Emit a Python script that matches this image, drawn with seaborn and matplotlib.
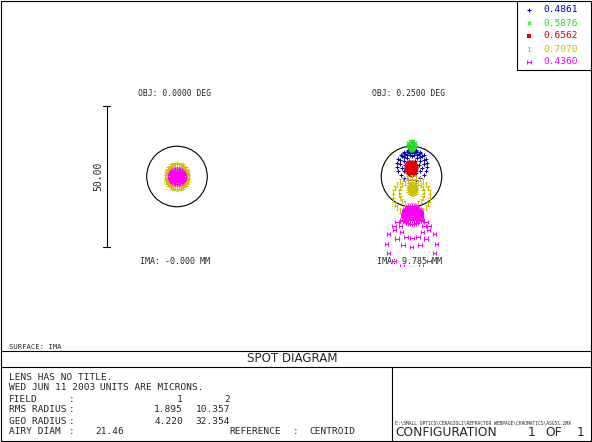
import numpy as np
import pandas as pd
import matplotlib
matplotlib.use("Agg")
import matplotlib.pyplot as plt
import seaborn as sns
from matplotlib.path import Path
from matplotlib.patches import Circle

sns.set_style("white")
plt.rcParams["font.family"] = ["DejaVu Sans Mono", "DejaVu Sans"]

# ---------------- data ----------------
WAVELENGTHS = ["0.4861", "0.5876", "0.6562", "0.7070", "0.4360"]
COLORS = ["#0000b4", "#22dd22", "#e00000", "#c8c000", "#ff00ff"]
OBJ_LABELS = ["OBJ: 0.0000 DEG", "OBJ: 0.2500 DEG"]
IMA_LABELS = ["IMA: -0.000 MM", "IMA: 9.785 MM"]
AIRY_DIAM_UM = 21.46
SCALE_BAR_UM = 50.0
SCALE_BAR_LABEL = "50.00"
FIELD_NUMBERS = ["1", "2"]
RMS_RADIUS = ["1.895", "10.357"]
GEO_RADIUS = ["4.220", "32.354"]

# spot rings: (x centre um, y centre um, radius um, rays)
F1_BLUE = [(0.0, 0.0, 0.6, 8), (0.0, 0.0, 0.2, 4)]
F1_GREEN = [(0.0, 0.0, 0.5, 8)]
F1_RED = [(0.0, 0.0, 0.5, 8)]
F1_YELLOW = [(0.0, 0.0, 4.2, 34), (0.0, 0.0, 3.7, 28), (0.0, 0.0, 2.4, 18)]
F1_MAGENTA = [(0.0, 0.0, 2.6, 28), (0.0, 0.0, 2.0, 22), (0.0, 0.0, 1.4, 16),
              (0.0, 0.0, 0.8, 10), (0.0, 0.0, 0.3, 5)]

F2_BLUE = [(0.2, 4.1, 5.4, 22), (0.2, 5.1, 4.2, 18), (0.2, 6.1, 3.0, 14),
           (0.2, 7.1, 1.8, 10), (0.2, 8.0, 0.8, 6)]
F2_GREEN = [(0.0, 11.3, 1.3, 12), (0.0, 10.6, 1.0, 10), (0.0, 10.0, 0.6, 7),
            (0.0, 9.5, 0.2, 4)]
F2_RED = [(0.0, 3.1, 1.7, 16), (0.0, 2.4, 1.3, 12), (0.0, 1.6, 0.9, 9),
          (0.0, 0.8, 0.4, 5)]
F2_YELLOW = [(0.0, -6.9, 6.6, 28), (0.0, -5.9, 4.4, 22), (0.35, -4.3, 1.7, 14),
             (0.35, -4.3, 1.1, 10), (0.35, -4.4, 0.5, 6)]
F2_MAGENTA = [(0.0, -23.8, 8.8, 16), (0.0, -19.0, 6.0, 12), (0.2, -17.7, 4.2, 12),
              (0.2, -13.6, 3.2, 28), (0.2, -13.1, 2.5, 22), (0.2, -12.6, 1.8, 18),
              (0.2, -12.2, 1.1, 12), (0.2, -11.9, 0.4, 5)]

FIELDS = [
    [F1_BLUE, F1_GREEN, F1_RED, F1_YELLOW, F1_MAGENTA],
    [F2_BLUE, F2_GREEN, F2_RED, F2_YELLOW, F2_MAGENTA],
]


def ring_points(rings):
    xs, ys = [], []
    for cx, cy, r, n in rings:
        t = np.pi / 2 + 2 * np.pi * np.arange(n) / n
        xs.append(cx + r * np.cos(t))
        ys.append(cy + r * np.sin(t))
    return np.concatenate(xs), np.concatenate(ys)


rows = []
for fi, field in enumerate(FIELDS):
    for wi, rings in enumerate(field):
        x, y = ring_points(rings)
        rows.append(pd.DataFrame({"field": fi, "wave": WAVELENGTHS[wi], "x": x, "y": y}))
spots = pd.concat(rows, ignore_index=True)

# ---------------- markers ----------------
M, L = Path.MOVETO, Path.LINETO
I_MARK = Path([(-0.6, 1), (0.6, 1), (0, 1), (0, -1), (-0.6, -1), (0.6, -1)],
              [M, L, M, L, M, L])
H_MARK = Path([(-0.8, 1), (-0.8, -1), (0.8, 1), (0.8, -1), (-0.8, 0), (0.8, 0)],
              [M, L, M, L, M, L])
MARKERS = ["+", "x", "s", I_MARK, H_MARK]
SIZES = [9, 6, 5, 10, 9]
MLW = 0.75

# ---------------- figure ----------------
W, H = 592, 442
fig = plt.figure(figsize=(W / 100, H / 100), dpi=100)
bg = fig.add_axes([0, 0, 1, 1])
bg.set_xlim(0, W)
bg.set_ylim(H, 0)
bg.axis("off")

LW = 0.8
# frame lines
bg.plot([0.5, 590.5, 590.5, 0.5, 0.5], [0.5, 0.5, 440.5, 440.5, 0.5], color="black", lw=LW)
bg.plot([517, 517, 590.5], [0.5, 70, 70], color="black", lw=LW)
bg.plot([0.5, 590.5], [351, 351], color="black", lw=LW)
bg.plot([0.5, 590.5], [367, 367], color="black", lw=LW)
bg.plot([392, 392], [367, 440.5], color="black", lw=LW)

# legend
leg_y = [10, 23, 36, 49, 62]
for i, w in enumerate(WAVELENGTHS):
    m = MARKERS[i]
    if m in ("+", "x"):
        bg.scatter([529], [leg_y[i]], marker=m, s=SIZES[i], color=COLORS[i], linewidths=MLW)
    elif m == "s":
        bg.scatter([529], [leg_y[i]], marker=m, s=SIZES[i], color=COLORS[i], linewidths=0)
    else:
        bg.scatter([529], [leg_y[i]], marker=m, s=SIZES[i], facecolor="none",
                   edgecolor=COLORS[i], linewidths=MLW)
    bg.text(543, leg_y[i], w, color=COLORS[i], fontsize=6.8, va="center", ha="left")

# spot axes
SCALE = 2.82  # px per micron
HALF = 32.0
CENTERS = [(177.0, 176.5), (411.5, 176.5)]
axes = []
for fi, (cx, cy) in enumerate(CENTERS):
    half = HALF * SCALE
    ax = fig.add_axes([(cx - half) / W, (H - cy - half) / H, 2 * half / W, 2 * half / H])
    ax.set_xlim(-HALF, HALF)
    ax.set_ylim(-HALF, HALF)
    ax.axis("off")
    ax.patch.set_alpha(0)
    ax.add_patch(Circle((0, 0), AIRY_DIAM_UM / 2, fill=False, color="black", lw=LW, zorder=1))
    sub = spots[spots["field"] == fi]
    for wi, w in enumerate(WAVELENGTHS):
        d = sub[sub["wave"] == w]
        m = MARKERS[wi]
        kw = dict(data=d, x="x", y="y", ax=ax, marker=m, s=SIZES[wi], legend=False,
                  zorder=2 + wi)
        if m in ("+", "x"):
            sns.scatterplot(color=COLORS[wi], linewidth=MLW, **kw)
        elif m == "s":
            sns.scatterplot(color=COLORS[wi], edgecolor=COLORS[wi], linewidth=0.3, **kw)
        else:
            sns.scatterplot(color=COLORS[wi], facecolor="none", edgecolor=COLORS[wi],
                            linewidth=MLW, **kw)
    axes.append(ax)

# scale bar on the left field
ax0 = axes[0]
bx = -24.9
ax0.plot([bx, bx], [-SCALE_BAR_UM / 2, SCALE_BAR_UM / 2], color="black", lw=LW, clip_on=False)
for yy in (-SCALE_BAR_UM / 2, SCALE_BAR_UM / 2):
    ax0.plot([bx - 1.2, bx + 1.2], [yy, yy], color="black", lw=LW, clip_on=False)
bg.text(98.5, 176.5, SCALE_BAR_LABEL, rotation=90, fontsize=7, ha="center", va="center")

# field labels
for fi, (cx, cy) in enumerate(CENTERS):
    bg.text(cx - 2.5, 93, OBJ_LABELS[fi], fontsize=5.8, ha="center", va="center")
    bg.text(cx - 2, 262, IMA_LABELS[fi], fontsize=6, ha="center", va="center")

# bottom text
bg.text(9, 347, "SURFACE: IMA", fontsize=5.2, ha="left", va="center")
bg.text(292.5, 359, "SPOT DIAGRAM", fontsize=8.6, ha="center", va="center",
        family="DejaVu Sans")
fs = 6.8
bg.text(9, 377, "LENS HAS NO TITLE.", fontsize=fs, ha="left", va="center")
bg.text(9, 388, "WED JUN 11 2003", fontsize=fs, ha="left", va="center")
bg.text(100, 388, "UNITS ARE MICRONS.", fontsize=fs, ha="left", va="center")
rows_y = [399, 410, 421]
labels = ["FIELD", "RMS RADIUS", "GEO RADIUS"]
vals = [FIELD_NUMBERS, RMS_RADIUS, GEO_RADIUS]
for yy, lab, v in zip(rows_y, labels, vals):
    bg.text(9, yy, lab, fontsize=fs, ha="left", va="center")
    bg.text(72, yy, ":", fontsize=fs, ha="center", va="center")
    bg.text(183, yy, v[0], fontsize=fs, ha="right", va="center")
    bg.text(230, yy, v[1], fontsize=fs, ha="right", va="center")
bg.text(9, 432, "AIRY DIAM", fontsize=fs, ha="left", va="center")
bg.text(72, 432, ":", fontsize=fs, ha="center", va="center")
bg.text(95, 432, f"{AIRY_DIAM_UM:.2f}", fontsize=fs, ha="left", va="center")
bg.text(229, 432, "REFERENCE", fontsize=fs, ha="left", va="center")
bg.text(296, 432, ":", fontsize=fs, ha="center", va="center")
bg.text(309, 432, "CENTROID", fontsize=fs, ha="left", va="center")

bg.text(395, 423, r"E:\SMALL OPTICS\CERAGIOLI\REFRACTOR WEBPAGE\CHROMATICS\ASG51.ZMX",
        fontsize=3.3, ha="left", va="center")
bg.text(395, 433, "CONFIGURATION", fontsize=8.8, ha="left", va="center", family="DejaVu Sans")
bg.text(532, 433, "1", fontsize=8.8, ha="center", va="center", family="DejaVu Sans")
bg.text(554, 433, "OF", fontsize=8.8, ha="center", va="center", family="DejaVu Sans")
bg.text(581, 433, "1", fontsize=8.8, ha="center", va="center", family="DejaVu Sans")

fig.savefig("out.png", dpi=100)
